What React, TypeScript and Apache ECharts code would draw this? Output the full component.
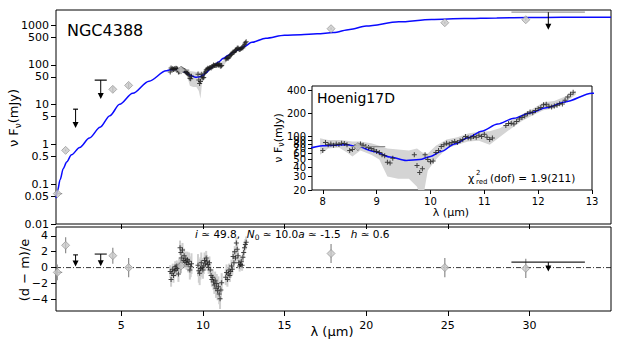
import { useEffect, useRef } from 'react';
import * as echarts from 'echarts';

// ---------- data ----------
const modelWave = [1.0, 1.1, 1.25, 1.45, 1.65, 1.95, 2.45, 3.05, 3.7, 4.3, 4.9, 5.7, 6.7, 7.75, 8.0, 8.45, 8.65, 8.95, 9.25, 9.55, 9.8, 10.0, 10.2, 10.45, 10.7, 10.95, 11.25, 11.55, 11.85, 12.15, 12.5, 13.0, 13.85, 15.0, 16.0, 17.0, 18.0, 19.0, 20.0, 22.0, 24.0, 26.0, 28.0, 30.0, 32.0, 35.0];
const modelFlux = [0.045, 0.07, 0.13, 0.25, 0.36, 0.55, 0.84, 1.45, 2.7, 5.3, 10.2, 19.3, 39, 71, 76, 78, 74, 64, 54, 48.6, 50, 55, 64, 80, 97, 118, 146, 174, 204, 238, 285, 370, 470, 560, 575, 605, 650, 780, 944, 1210, 1390, 1470, 1520, 1550, 1570, 1580];

const specWave = [8.00, 8.05, 8.10, 8.15, 8.20, 8.25, 8.30, 8.35, 8.40, 8.45, 8.50, 8.55, 8.60, 8.65, 8.70, 8.75, 8.80, 8.85, 8.90, 8.95, 9.00, 9.05, 9.10, 9.15, 9.20, 9.25, 9.30,
  9.70, 9.75, 9.80, 9.85, 9.90, 9.95, 10.00, 10.05, 10.10, 10.15, 10.20, 10.25, 10.30, 10.35, 10.40, 10.45, 10.50, 10.55, 10.60, 10.65, 10.70, 10.75, 10.80, 10.85, 10.90, 10.95, 11.00, 11.05, 11.10, 11.15,
  11.40, 11.45, 11.50, 11.55, 11.60, 11.65, 11.70, 11.75, 11.80, 11.85, 11.90, 11.95, 12.00, 12.05, 12.10, 12.15, 12.20, 12.25, 12.30, 12.35, 12.40, 12.45, 12.50, 12.55, 12.60, 12.65];
const specFlux = [66, 84, 78, 80, 77, 80, 79, 82, 81, 78, 66, 68, 74, 76, 80, 77, 74, 72, 70, 67, 64, 62, 58, 56, 46, 45, 52,
  58, 42, 34, 38, 58, 50, 47, 48, 62, 66, 74, 78, 82, 80, 84, 86, 84, 88, 92, 100, 97, 96, 100, 98, 104, 100, 107, 98, 92, 96,
  140, 148, 150, 146, 158, 170, 178, 186, 200, 210, 205, 220, 232, 240, 262, 266, 250, 245, 252, 258, 270, 268, 300, 330, 360, 380];
const specRes = [-0.5, -1.5, -0.7, -0.2, -1.0, -0.4, 0.1, -0.3, 0.2, -0.1, -0.8, 0.3, 2.5, 1.9, 1.2, 2.2, 0.9, 1.5, 0.7, 1.1, 0.6, 1.0, 0.4, 0.8, -0.3, 0.1, 0.5,
  0.3, -0.4, -0.7, -0.1, 0.6, 0.0, -0.3, 0.2, 0.9, 0.5, 1.2, 0.8, 0.4, 0.0, 0.6, -0.3, -1.0, -1.5, -1.2, -1.8, -2.2, -1.6, -2.6, -2.0, -2.9, -2.4, -3.3, -3.9, -2.8, -1.9,
  -1.2, -0.6, -1.5, -0.8, -0.3, -1.0, -0.5, 0.2, -0.2, 1.4, 0.6, 2.0, 1.2, 3.1, 2.3, 1.5, 0.6, 0.2, 0.4, 0.8, 0.3, 1.3, 1.9, 2.5, 2.9, 3.2];
const specResErr = [0.8, 0.9, 0.8, 0.7, 0.9, 0.8, 0.7, 0.8, 0.7, 0.8, 1.0, 1.0, 0.9, 0.9, 0.8, 0.9, 0.8, 0.9, 0.8, 0.9, 0.9, 1.0, 1.0, 1.1, 1.2, 1.3, 1.3,
  1.4, 1.5, 1.5, 1.4, 1.3, 1.2, 1.1, 1.0, 1.0, 0.9, 0.9, 0.8, 0.8, 0.8, 0.8, 0.8, 0.9, 0.9, 1.0, 1.0, 1.1, 1.1, 1.2, 1.2, 1.2, 1.3, 1.3, 1.3, 1.2, 1.2,
  1.0, 1.0, 0.9, 0.9, 0.8, 0.8, 0.8, 0.8, 0.7, 0.7, 0.7, 0.7, 0.7, 0.7, 0.7, 0.7, 0.7, 0.7, 0.7, 0.7, 0.7, 0.7, 0.7, 0.7, 0.7, 0.7];

const bandWave = [7.95, 8.1, 8.3, 8.45, 8.55, 8.7, 8.9, 9.05, 9.2, 9.4, 9.6, 9.75, 9.85, 9.95, 10.1, 10.3, 10.5, 10.7, 10.9, 11.1, 11.3, 11.5, 11.7, 11.9, 12.1, 12.3, 12.5, 12.7];
const bandLo = [58, 70, 72, 62, 55, 66, 58, 50, 30, 28, 28, 22, 14, 36, 50, 70, 78, 86, 88, 78, 100, 128, 160, 190, 222, 235, 280, 355];
const bandHi = [95, 90, 90, 88, 86, 86, 82, 76, 70, 68, 66, 70, 62, 60, 76, 92, 98, 110, 116, 118, 130, 162, 196, 232, 282, 292, 335, 400];

const photWave = [1.08, 1.59, 4.48, 5.45, 8.65, 17.85, 24.82, 29.78];
const photFlux = [0.058, 0.71, 24.3, 30.5, 74, 813, 1150, 1365];
const photLo = [0.055, 0.67, 20.5, 26, 65, 760, 1080, 1290];
const photHi = [0.061, 0.75, 28.5, 35, 83, 870, 1230, 1440];
const photXLo = [1.08, 1.59, 4.48, 5.45, 8.54, 17.85, 24.82, 29.78];
const photXHi = [1.38, 1.59, 4.48, 5.45, 9.16, 17.85, 24.82, 29.78];
const photRes = [-0.6, 2.8, 1.5, 0.0, 0.2, 1.77, 0.0, -0.1];
const photResErr = [1.0, 1.0, 1.0, 1.2, 0.9, 1.2, 1.2, 1.2];

const ulWave = [2.2, 3.74, 31.16];
const ulFlux = [7.7, 41.4, 2115];
const ulEnd = [2.6, 13.8, 760];
const ulXLo = [2.05, 3.37, 28.9];
const ulXHi = [2.35, 4.11, 33.4];
const ulRes = [1.6, 1.7, 0.68];
const ulResEnd = [0.13, 0.17, -0.5];

const mainYTicks = [0.01, 0.05, 0.1, 0.5, 1, 5, 10, 50, 100, 500, 1000];
const insetYTicks = [20, 30, 40, 50, 60, 70, 80, 90, 100, 200, 300, 400];
const insetXTicks = [8, 9, 10, 11, 12, 13];
const lamTicks = [5, 10, 15, 20, 25, 30];
const resTicks = [-4, -2, 0, 2, 4];

// ---------- helpers ----------
const L = (v: number) => Math.log10(v);
const FONT = 'DejaVu Sans';
const PLUS = 'path://M4,0H6V4H10V6H6V10H4V6H0V4H4Z';
const fmtPow = (v: number) => String(Number(Math.pow(10, v).toPrecision(2)));

const vbar = (color: string, w: number) => (_p: any, api: any) => {
  const x = api.value(0);
  const a = api.coord([x, api.value(1)]);
  const b = api.coord([x, api.value(2)]);
  return { type: 'line', shape: { x1: a[0], y1: a[1], x2: b[0], y2: b[1] }, style: { stroke: color, lineWidth: w } };
};
const hbar = (color: string, w: number) => (_p: any, api: any) => {
  const y = api.value(2);
  const a = api.coord([api.value(0), y]);
  const b = api.coord([api.value(1), y]);
  return { type: 'line', shape: { x1: a[0], y1: a[1], x2: b[0], y2: b[1] }, style: { stroke: color, lineWidth: w } };
};
const arrow = (capColor: (i: number) => string) => (p: any, api: any) => {
  const x = api.value(0);
  const c = api.coord([x, api.value(1)]);
  const e = api.coord([x, api.value(2)]);
  const cl = api.coord([api.value(3), api.value(1)]);
  const ch = api.coord([api.value(4), api.value(1)]);
  return {
    type: 'group',
    children: [
      { type: 'line', shape: { x1: cl[0], y1: c[1], x2: ch[0], y2: c[1] }, style: { stroke: capColor(p.dataIndex), lineWidth: 1.2 } },
      { type: 'line', shape: { x1: c[0], y1: c[1], x2: e[0], y2: e[1] - 5 }, style: { stroke: '#000', lineWidth: 1 } },
      { type: 'polygon', shape: { points: [[e[0] - 3, e[1] - 6], [e[0] + 3, e[1] - 6], [e[0], e[1]]] }, style: { fill: '#000' } },
    ],
  };
};
const bandRender = (_p: any, api: any) => {
  const top = bandWave.map((w, i) => api.coord([w, L(bandHi[i])]));
  const bot = bandWave.map((w, i) => api.coord([w, L(bandLo[i])])).reverse();
  return { type: 'polygon', shape: { points: top.concat(bot) }, style: { fill: '#d4d4d4' } };
};

function sedSeries(ax: number, plusSize: number, withLimits: boolean) {
  const s: any[] = [
    {
      type: 'custom', xAxisIndex: ax, yAxisIndex: ax, clip: true, silent: true,
      renderItem: bandRender, data: [[bandWave[0], L(bandLo[0])]], encode: { x: 0, y: 1 }, z: 1,
    },
    {
      type: 'line', xAxisIndex: ax, yAxisIndex: ax, silent: true, showSymbol: false, clip: true,
      smooth: 0.3, smoothMonotone: 'x',
      lineStyle: { color: '#0a0aff', width: 1.5 }, z: 3,
      data: modelWave.map((w, i) => [w, L(modelFlux[i])]),
    },
    {
      type: 'scatter', xAxisIndex: ax, yAxisIndex: ax, silent: true, clip: true,
      symbol: PLUS, symbolSize: plusSize, itemStyle: { color: '#1a1a1a' }, z: 4,
      data: specWave.map((w, i) => [w, L(specFlux[i])]),
    },
    {
      type: 'custom', xAxisIndex: ax, yAxisIndex: ax, clip: true, silent: true, z: 5,
      renderItem: vbar('#8c8c8c', 1.2), encode: { x: 0, y: [1, 2] },
      data: photWave.map((w, i) => [w, L(photLo[i]), L(photHi[i])]),
    },
    {
      type: 'custom', xAxisIndex: ax, yAxisIndex: ax, clip: true, silent: true, z: 5,
      renderItem: hbar('#8c8c8c', 1.2), encode: { x: [0, 1], y: 2 },
      data: photWave.map((_w, i) => [photXLo[i], photXHi[i], L(photFlux[i])]),
    },
    {
      type: 'scatter', xAxisIndex: ax, yAxisIndex: ax, silent: true, clip: true,
      symbol: 'diamond', symbolSize: 8, z: 6,
      itemStyle: { color: '#c9c9c9', borderColor: '#8a8a8a', borderWidth: 0.8 },
      data: photWave.map((w, i) => [w, L(photFlux[i])]),
    },
  ];
  if (withLimits) {
    s.push({
      type: 'custom', xAxisIndex: ax, yAxisIndex: ax, clip: true, silent: true, z: 6,
      renderItem: arrow((i) => (i === 2 ? '#9a9a9a' : '#000')), encode: { x: [0, 3, 4], y: [1, 2] },
      data: ulWave.map((w, i) => [w, L(ulFlux[i]), L(ulEnd[i]), ulXLo[i], ulXHi[i]]),
    });
  }
  return s;
}

const tickLabel = { fontFamily: FONT, color: '#000', showMinLabel: true, showMaxLabel: true };
const noLine = { show: false, onZero: false };

const option: any = {
  animation: false,
  grid: [
    { left: 56, top: 10, width: 555, height: 214, show: true, borderColor: '#000', borderWidth: 1, backgroundColor: 'transparent' },
    { left: 56, top: 227, width: 555, height: 84, show: true, borderColor: '#000', borderWidth: 1, backgroundColor: 'transparent' },
    { left: 312, top: 86, width: 280, height: 104, show: true, borderColor: '#000', borderWidth: 1, backgroundColor: '#fff' },
  ],
  xAxis: [
    {
      gridIndex: 0, type: 'value', position: 'bottom', min: 1, max: 35, splitLine: { show: false }, axisLine: noLine,
      axisTick: { show: true, inside: false, length: 5, customValues: lamTicks, lineStyle: { color: '#000' } },
      axisLabel: { show: false, customValues: lamTicks },
    },
    {
      gridIndex: 1, type: 'value', position: 'bottom', min: 1, max: 35, splitLine: { show: false }, axisLine: noLine,
      axisTick: { show: true, inside: false, length: 5, customValues: lamTicks, lineStyle: { color: '#000' } },
      axisLabel: { ...tickLabel, fontSize: 11, margin: 9, customValues: lamTicks },
    },
    {
      gridIndex: 2, type: 'value', position: 'bottom', min: 7.8, max: 13, splitLine: { show: false }, axisLine: noLine,
      axisTick: { show: true, inside: false, length: 4, customValues: insetXTicks, lineStyle: { color: '#000' } },
      axisLabel: { ...tickLabel, fontSize: 10, margin: 6, customValues: insetXTicks },
    },
  ],
  yAxis: [
    {
      gridIndex: 0, type: 'value', position: 'left', min: -2, max: L(2400), splitLine: { show: false }, axisLine: noLine,
      axisTick: { show: true, inside: false, length: 5, customValues: mainYTicks.map(L), lineStyle: { color: '#000' } },
      axisLabel: { ...tickLabel, fontSize: 11, margin: 7, customValues: mainYTicks.map(L), formatter: fmtPow },
    },
    {
      gridIndex: 1, type: 'value', position: 'left', min: -5.45, max: 5.1, splitLine: { show: false }, axisLine: noLine,
      axisTick: { show: true, inside: false, length: 5, customValues: resTicks, lineStyle: { color: '#000' } },
      axisLabel: { ...tickLabel, fontSize: 11, margin: 8, customValues: resTicks, formatter: (v: number) => String(v).replace('-', '\u2212') },
    },
    {
      gridIndex: 2, type: 'value', position: 'left', min: L(20), max: L(460), splitLine: { show: false }, axisLine: noLine,
      axisTick: { show: true, inside: false, length: 4, customValues: insetYTicks.map(L), lineStyle: { color: '#000' } },
      axisLabel: { ...tickLabel, fontSize: 10, margin: 6, customValues: insetYTicks.map(L), formatter: fmtPow },
    },
  ],
  series: [
    ...sedSeries(0, 5, true),
    {
      type: 'line', xAxisIndex: 1, yAxisIndex: 1, silent: true, showSymbol: false, z: 1,
      lineStyle: { color: '#000', width: 0.8, type: [5, 2, 1, 2] },
      data: [[1, 0], [35, 0]],
    },
    {
      type: 'custom', xAxisIndex: 1, yAxisIndex: 1, clip: true, silent: true, z: 2,
      renderItem: vbar('#cfcfcf', 2), encode: { x: 0, y: [1, 2] },
      data: specWave.map((w, i) => [w, specRes[i] - specResErr[i], specRes[i] + specResErr[i]]),
    },
    {
      type: 'scatter', xAxisIndex: 1, yAxisIndex: 1, silent: true, clip: true,
      symbol: PLUS, symbolSize: 5, itemStyle: { color: '#1a1a1a' }, z: 4,
      data: specWave.map((w, i) => [w, specRes[i]]),
    },
    {
      type: 'custom', xAxisIndex: 1, yAxisIndex: 1, clip: true, silent: true, z: 5,
      renderItem: vbar('#8c8c8c', 1.2), encode: { x: 0, y: [1, 2] },
      data: photWave.map((w, i) => [w, photRes[i] - photResErr[i], photRes[i] + photResErr[i]]),
    },
    {
      type: 'custom', xAxisIndex: 1, yAxisIndex: 1, clip: true, silent: true, z: 5,
      renderItem: hbar('#8c8c8c', 1.2), encode: { x: [0, 1], y: 2 },
      data: photWave.map((_w, i) => [photXLo[i], photXHi[i], photRes[i]]),
    },
    {
      type: 'scatter', xAxisIndex: 1, yAxisIndex: 1, silent: true, clip: true,
      symbol: 'diamond', symbolSize: 8, z: 6,
      itemStyle: { color: '#c9c9c9', borderColor: '#8a8a8a', borderWidth: 0.8 },
      data: photWave.map((w, i) => [w, photRes[i]]),
    },
    {
      type: 'custom', xAxisIndex: 1, yAxisIndex: 1, clip: true, silent: true, z: 6,
      renderItem: arrow(() => '#222'), encode: { x: [0, 3, 4], y: [1, 2] },
      data: ulWave.map((w, i) => [w, ulRes[i], ulResEnd[i], ulXLo[i], ulXHi[i]]),
    },
    ...sedSeries(2, 5, false),
  ],
  graphic: {
    elements: [
      { type: 'text', x: 67, y: 30, z: 100, style: { text: 'NGC4388', font: `16px "${FONT}"`, fill: '#000', verticalAlign: 'middle' } },
      { type: 'text', x: 317, y: 98, z: 100, style: { text: 'Hoenig17D', font: `14px "${FONT}"`, fill: '#000', verticalAlign: 'middle' } },
      {
        type: 'text', x: 13, y: 118, rotation: Math.PI / 2, z: 100,
        style: {
          text: '{n|\u03bd F}{s|\u03bd}{n|(mJy)}', fill: '#000', align: 'center', verticalAlign: 'middle',
          rich: { n: { fontSize: 13, fontFamily: FONT, lineHeight: 18 }, s: { fontSize: 9, fontFamily: FONT, lineHeight: 9, verticalAlign: 'bottom' } },
        },
      },
      {
        type: 'text', x: 278, y: 138, rotation: Math.PI / 2, z: 100,
        style: {
          text: '{n|\u03bd F}{s|\u03bd}{n|(mJy)}', fill: '#000', align: 'center', verticalAlign: 'middle',
          rich: { n: { fontSize: 11, fontFamily: FONT, lineHeight: 15 }, s: { fontSize: 8, fontFamily: FONT, lineHeight: 8, verticalAlign: 'bottom' } },
        },
      },
      { type: 'text', x: 451, y: 212, z: 100, style: { text: '\u03bb (\u03bcm)', font: `11px "${FONT}"`, fill: '#000', align: 'center', verticalAlign: 'middle' } },
      { type: 'text', x: 468, y: 178, z: 100, style: { text: '\u03c7', font: `11px "${FONT}"`, fill: '#000', verticalAlign: 'middle' } },
      { type: 'text', x: 476, y: 173, z: 100, style: { text: '2', font: `7px "${FONT}"`, fill: '#000', verticalAlign: 'middle' } },
      { type: 'text', x: 476, y: 182, z: 100, style: { text: 'red', font: `7px "${FONT}"`, fill: '#000', verticalAlign: 'middle' } },
      { type: 'text', x: 490, y: 178, z: 100, style: { text: '(dof) = 1.9(211)', font: `10.5px "${FONT}"`, fill: '#000', verticalAlign: 'middle' } },
      { type: 'text', x: 24, y: 270, rotation: Math.PI / 2, z: 100, style: { text: '(d \u2212 m)/e', font: `13px "${FONT}"`, fill: '#000', align: 'center', verticalAlign: 'middle' } },
      { type: 'text', x: 332, y: 331, z: 100, style: { text: '\u03bb (\u03bcm)', font: `13px "${FONT}"`, fill: '#000', align: 'center', verticalAlign: 'middle' } },
      {
        type: 'text', x: 195, y: 234, z: 100,
        style: {
          text: '{i|i}{n| \u2243 49.8,  }{i|N}{s|0}{n| \u2243 10.0}{i|a}{n| \u2243 -1.5   }{i|h}{n| \u2243 0.6}',
          fill: '#000', verticalAlign: 'middle',
          rich: {
            n: { fontSize: 10.5, fontFamily: FONT, lineHeight: 15 },
            i: { fontSize: 10.5, fontFamily: FONT, fontStyle: 'italic', lineHeight: 15 },
            s: { fontSize: 7.5, fontFamily: FONT, lineHeight: 8, verticalAlign: 'bottom' },
          },
        },
      },
    ],
  },
};

export default function App() {
  const ref = useRef<HTMLDivElement>(null);
  useEffect(() => {
    const chart = echarts.init(ref.current!, null, { renderer: 'svg' });
    chart.setOption(option);
    return () => chart.dispose();
  }, []);
  return <div ref={ref} style={{ position: 'fixed', left: 0, top: 0, width: 623, height: 346, background: '#fff' }} />;
}
